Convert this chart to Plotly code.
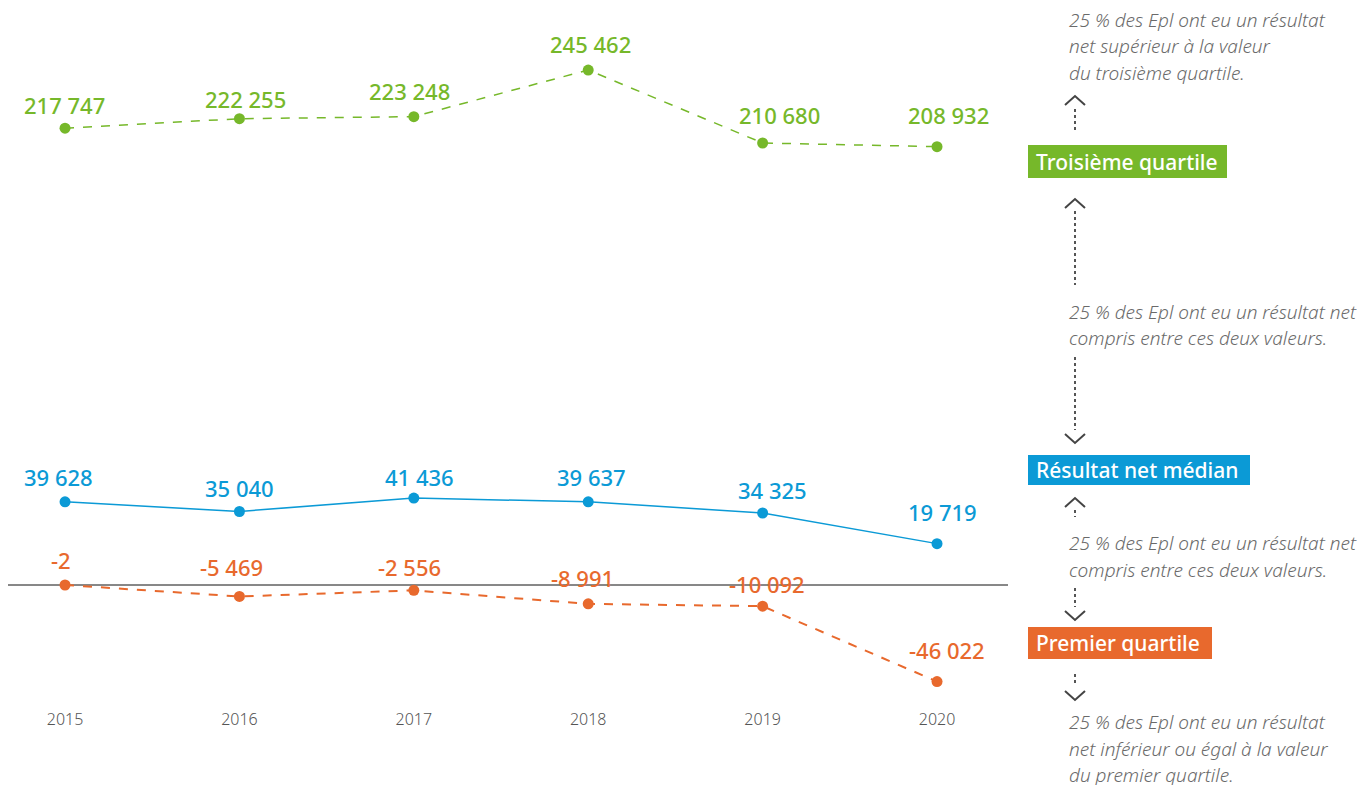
import plotly.graph_objects as go

years = [2015, 2016, 2017, 2018, 2019, 2020]
q3 = [217747, 222255, 223248, 245462, 210680, 208932]
median = [39628, 35040, 41436, 39637, 34325, 19719]
q1 = [-2, -5469, -2556, -8991, -10092, -46022]
tick_labels = ["2015", "2016", "2017", "2018", "2019", "2020"]

# label offsets in pixels (style only): (dx, dy above point)
q3_off = [(-1, 23), (6, 20), (-4, 26), (2, 26), (17, 28), (11, 32)]
med_off = [(-7, 25), (0, 23), (6, 21), (3, 25), (10, 23), (5, 32)]
q1_off = [(-4, 25), (-8, 29), (-4, 23), (-6, 26), (4, 22), (10, 32)]

GREEN = "#76b82a"
BLUE = "#0b9ad6"
ORANGE = "#e8692d"
GRAY_TXT = "#6a6a6a"
DARK = "#444444"

def fmt(v):
    s = f"{abs(v):,}".replace(",", " ")
    return ("-" if v < 0 else "") + s

OFF = 8  # page body margin
FW, FH = 1357, 777
# plot area in figure pixels
L, R, T, B = 0, 1000, 0, 700
W, H = R - L, B - T
def px(x):  # screen x -> paper
    return (x - OFF - L) / W
def py(y):  # screen y -> paper
    return (B - (y - OFF)) / H

fig = go.Figure()
annotations = []
for vals, col, dash, lw, offs in [(q3, GREEN, "dash", 1.5, q3_off), (median, BLUE, "solid", 1.5, med_off),
                                   (q1, ORANGE, "dash", 2, q1_off)]:
    fig.add_trace(go.Scatter(
        x=years, y=vals, mode="lines+markers",
        line=dict(color=col, width=lw, dash=dash),
        marker=dict(color=col, size=11),
        showlegend=False, hoverinfo="skip"))
    for x, v, (dx, dy) in zip(years, vals, offs):
        annotations.append(dict(text=fmt(v), x=x, y=v, xref="x", yref="y", showarrow=False,
                                xanchor="center", yanchor="middle", xshift=dx, yshift=dy,
                                font=dict(color=col, size=22, family="Noto Sans", weight=500)))

shapes = []

# zero line
shapes.append(dict(type="line", xref="paper", yref="y", x0=0, x1=1, y0=0, y1=0,
                   line=dict(color="#111111", width=1), layer="below"))

# label boxes
boxes = [("Troisième quartile", GREEN, 1028, 1227, 145, 178),
         ("Résultat net médian", BLUE, 1028, 1250, 455, 485),
         ("Premier quartile", ORANGE, 1028, 1212, 627, 659)]
for txt, col, x0, x1, y0, y1 in boxes:
    shapes.append(dict(type="rect", xref="paper", yref="paper", x0=px(x0), x1=px(x1),
                       y0=py(y1), y1=py(y0), fillcolor=col, line=dict(width=0)))
    annotations.append(dict(text=txt, xref="paper", yref="paper", x=px(1034), y=py((y0 + y1) / 2),
                            xanchor="left", yanchor="middle", showarrow=False,
                            font=dict(color="white", size=21, family="Noto Sans", weight=500)))

# italic notes (line by line)
notes = [("25 % des Epl ont eu un résultat", 20), ("net supérieur à la valeur", 46), ("du troisième quartile.", 73),
         ("25 % des Epl ont eu un résultat net", 312), ("compris entre ces deux valeurs.", 338),
         ("25 % des Epl ont eu un résultat net", 543), ("compris entre ces deux valeurs.", 570),
         ("25 % des Epl ont eu un résultat", 722), ("net inférieur ou égal à la valeur", 749), ("du premier quartile.", 775)]
for txt, y in notes:
    annotations.append(dict(text=f"<i>{txt}</i>", xref="paper", yref="paper", x=px(1067), y=py(y),
                            xanchor="left", yanchor="middle", showarrow=False,
                            font=dict(color=GRAY_TXT, size=19, family="Noto Sans", weight=300)))

# dotted connectors
CX = 1075
for y0, y1 in [(109, 133), (211, 285), (357, 430), (510, 517), (588, 607), (674, 684)]:
    shapes.append(dict(type="line", xref="paper", yref="paper", x0=px(CX), x1=px(CX),
                       y0=py(y0), y1=py(y1), line=dict(color="#555555", width=2, dash="dot")))

def chevron(tip_y, up=True):
    arm = tip_y + 9 if up else tip_y - 9
    return dict(type="path", xref="paper", yref="paper",
                path=f"M {px(CX-10)} {py(arm)} L {px(CX)} {py(tip_y)} L {px(CX+10)} {py(arm)}",
                line=dict(color=DARK, width=2))
shapes += [chevron(96, True), chevron(199, True), chevron(443, False),
           chevron(498, True), chevron(620, False), chevron(700, False)]

fig.update_layout(
    width=FW, height=FH,
    margin=dict(l=L, r=FW - R, t=T, b=FH - B),
    paper_bgcolor="white", plot_bgcolor="white",
    xaxis=dict(range=[2014.673, 2020.407], tickvals=years, ticktext=tick_labels,
               showgrid=False, zeroline=False, showline=False, ticks="",
               tickfont=dict(size=16, color="#555555", family="Noto Sans", weight=300)),
    yaxis=dict(range=[-58627, 275024], visible=False, showgrid=False, zeroline=False),
    shapes=shapes, annotations=annotations,
)
fig.write_html("out.html")
